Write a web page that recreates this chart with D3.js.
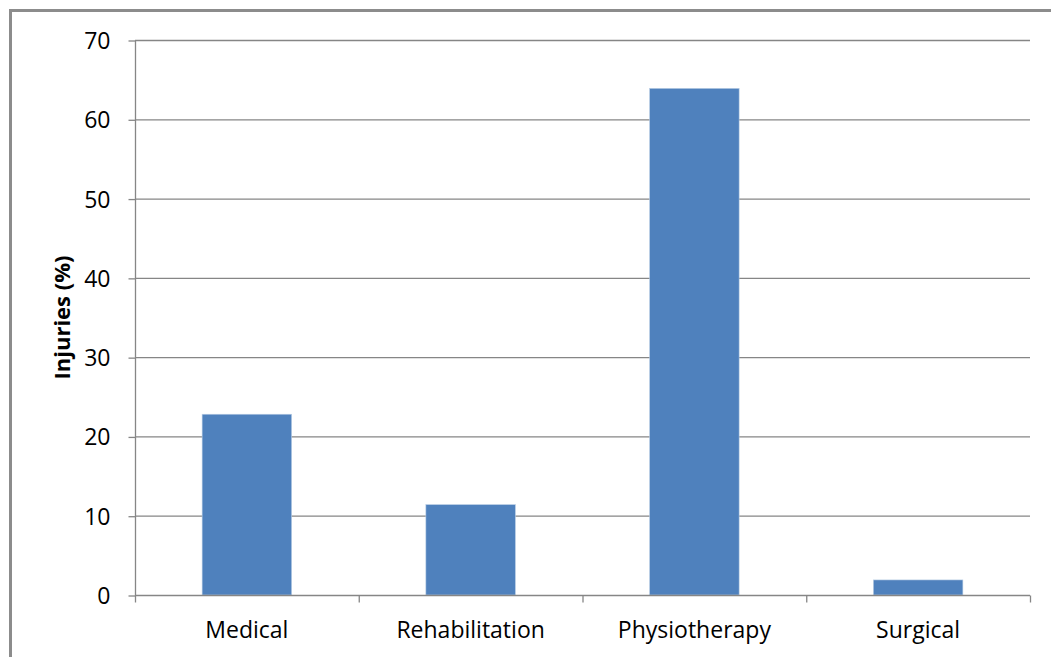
<!DOCTYPE html>
<html><head><meta charset="utf-8">
<script src="https://cdn.jsdelivr.net/npm/d3@7"></script>
<style>body{margin:0;background:#fff}svg{display:block}</style>
</head><body>
<script>
const categories = ["Medical", "Rehabilitation", "Physiotherapy", "Surgical"];
const values = [22.8, 11.4, 63.9, 1.9];
const yTicks = [0, 10, 20, 30, 40, 50, 60, 70];
const yTitle = "Injuries (%)";

(function () {
const W = 1051, H = 657;
const svg = d3.select("body").append("svg").attr("width", W).attr("height", H);
svg.append("rect").attr("width", W).attr("height", H).attr("fill", "#fff");
svg.append("rect").attr("x", 10.5).attr("y", 10.5).attr("width", W + 10).attr("height", H + 10)
  .attr("fill", "none").attr("stroke", "#8c8c8c").attr("stroke-width", 3);

const pL = 135, pR = 1030, pT = 40, pB = 595;
const x = d3.scaleBand().domain(categories).range([pL, pR]).paddingInner(0.6).paddingOuter(0.3);
const xb = d3.scaleBand().domain(categories).range([pL, pR]);
const y = d3.scaleLinear().domain([0, 70]).range([pB, pT]);
const font = "'Open Sans', sans-serif";
const fs = 23;
const gray = "#868686";

svg.append("g").selectAll("line").data(yTicks.filter(d => d > 0)).join("line")
  .attr("x1", pL).attr("x2", pR).attr("y1", d => y(d) + 0.5).attr("y2", d => y(d) + 0.5)
  .attr("stroke", gray).attr("stroke-width", 1.3);

svg.append("g").selectAll("rect").data(values).join("rect")
  .attr("x", (d, i) => x(categories[i])).attr("width", x.bandwidth())
  .attr("y", d => y(d)).attr("height", d => pB - y(d))
  .attr("fill", "#4f81bd").attr("stroke", "#b9cde5").attr("stroke-width", 0.6);

const ya = svg.append("g").attr("transform", `translate(${pL + 0.5},0.5)`)
  .call(d3.axisLeft(y).tickValues(yTicks).tickSize(7).tickPadding(18));
ya.select(".domain").attr("stroke", gray).attr("stroke-width", 1.3).attr("d", `M0,${pT}V${pB}`);
ya.selectAll(".tick line").attr("stroke", gray).attr("stroke-width", 1.3);
ya.selectAll("text").attr("font-family", font).attr("font-size", fs).attr("fill", "#000").attr("dy", "0.35em");

const xa = svg.append("g").attr("transform", `translate(0,${pB + 0.5})`);
xa.append("line").attr("x1", pL).attr("x2", pR).attr("stroke", gray).attr("stroke-width", 1.3);
const edges = categories.map(c => xb(c)).concat([pR]);
xa.selectAll(".tk").data(edges).join("line").attr("class", "tk")
  .attr("x1", d => d + 0.5).attr("x2", d => d + 0.5).attr("y1", 0).attr("y2", 7)
  .attr("stroke", gray).attr("stroke-width", 1.3);
xa.selectAll(".lbl").data(categories).join("text").attr("class", "lbl")
  .attr("x", d => xb(d) + xb.bandwidth() / 2).attr("y", 42)
  .attr("text-anchor", "middle").attr("font-family", font).attr("font-size", fs).attr("fill", "#000")
  .text(d => d);

svg.append("text").attr("transform", `translate(70,${(pT + pB) / 2}) rotate(-90)`)
  .attr("text-anchor", "middle").attr("font-family", font).attr("font-size", 22)
  .attr("font-weight", "bold").attr("fill", "#000").text(yTitle);
})();
</script>
</body></html>
